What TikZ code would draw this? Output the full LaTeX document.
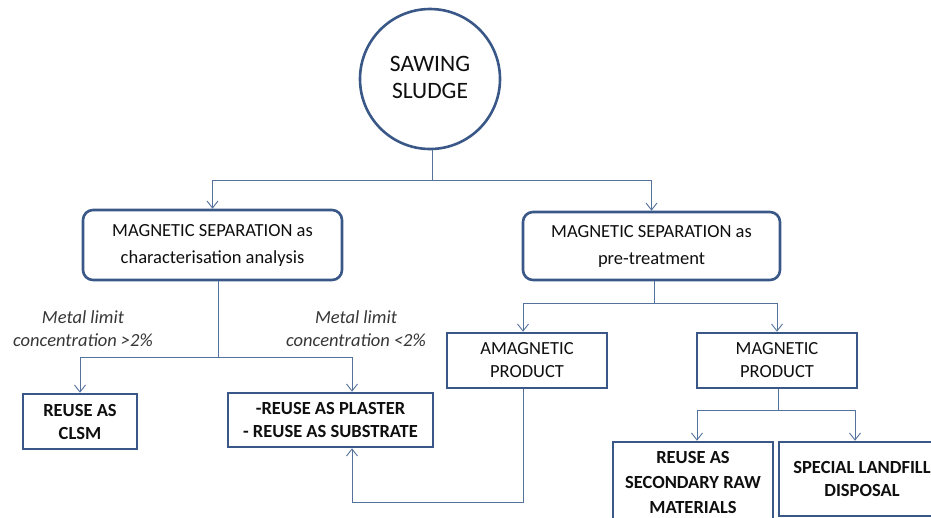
\documentclass[tikz,border=0pt]{standalone}
\usepackage{fontspec}
\setmainfont{Carlito}
\usetikzlibrary{arrows.meta}
\definecolor{boxline}{RGB}{58,88,135}
\definecolor{connline}{RGB}{84,114,158}
\definecolor{txt}{RGB}{15,15,15}
\definecolor{lbl}{RGB}{55,55,55}
\tikzset{
  base/.style={draw=boxline, line width=2.6pt, fill=white, text=txt, align=center, inner sep=0pt},
  circ/.style={base, circle, minimum size=140pt, font=\fontsize{23.5}{28}\selectfont},
  rbox/.style={base, rectangle, rounded corners=10pt, font=\fontsize{18.5}{27}\selectfont},
  bbox/.style={base, rectangle, font=\bfseries\fontsize{18.5}{23}\selectfont},
  tbox/.style={base, rectangle, font=\bfseries\fontsize{18.5}{25}\selectfont},
  pbox/.style={base, rectangle, font=\fontsize{18.5}{23}\selectfont},
  conn/.style={draw=connline, line width=0.9pt},
  arr/.style={conn, -{Straight Barb[length=7pt,width=11pt,line width=0.9pt]}},
  lab/.style={text=lbl, align=center, font=\itshape\fontsize{18.5}{23}\selectfont, inner sep=0pt}
}
\begin{document}
\begin{tikzpicture}[x=1pt,y=-1pt]
\useasboundingbox (0,0) rectangle (931,517);
\fill[white] (0,0) rectangle (931,517);
% nodes
\node[circ] (saw) at (430,79) {\raisebox{3pt}{\shortstack{SAWING\\[9pt]SLUDGE}}};
\node[rbox, minimum width=259pt, minimum height=70pt] (msca) at (212.5,245) {MAGNETIC SEPARATION as\\characterisation analysis};
\node[rbox, minimum width=257pt, minimum height=68pt] (mspt) at (651.5,246) {MAGNETIC SEPARATION as\\pre-treatment};
\node[bbox, minimum width=114pt, minimum height=55pt] (clsm) at (80,421.5) {REUSE AS\\CLSM};
\node[bbox, minimum width=205pt, minimum height=54pt] (plaster) at (330.5,420) {-REUSE AS PLASTER\\- REUSE AS SUBSTRATE};
\node[pbox, minimum width=160pt, minimum height=55pt] (amag) at (527,360.5) {AMAGNETIC\\PRODUCT};
\node[pbox, minimum width=160pt, minimum height=55pt] (mag) at (777,360.5) {MAGNETIC\\PRODUCT};
\node[tbox, minimum width=160pt, minimum height=80pt] (srm) at (693,482) {REUSE AS\\SECONDARY RAW\\MATERIALS};
\node[bbox, minimum width=166pt, minimum height=74pt] (land) at (862,479) {SPECIAL LANDFILL\\DISPOSAL};
% labels
\node[lab] (l1) at (83,329) {Metal limit\\concentration >2\%};
\node[lab] (l2) at (356,329) {Metal limit\\concentration <2\%};
% junctions
\coordinate (j1) at (432,180);
\coordinate (j2) at (218,357);
\coordinate (j3) at (654,303);
\coordinate (j4) at (778,410);
\coordinate (x352) at (352,0);
\coordinate (x523) at (523,0);
\coordinate (x697) at (697,0);
\coordinate (x855) at (855,0);
\coordinate (c1) at (523,502);
\coordinate (c2) at (352,502);
% connectors
\draw[conn] (saw.south -| j1) -- (j1);
\draw[arr] (j1) -| (msca.north);
\draw[arr] (j1) -| (mspt.north);
\draw[conn] (msca.south -| j2) -- (j2);
\draw[arr] (j2) -| (clsm.north);
\draw[arr] (j2) -| (plaster.north -| x352);
\draw[conn] (mspt.south -| j3) -- (j3);
\draw[arr] (j3) -| (amag.north -| x523);
\draw[arr] (j3) -| (mag.north);
\draw[conn] (mag.south -| j4) -- (j4);
\draw[arr] (j4) -| (srm.north -| x697);
\draw[arr] (j4) -| (land.north -| x855);
\draw[arr] (amag.south -| x523) -- (c1) -- (c2) -- (plaster.south -| x352);
\end{tikzpicture}
\end{document}
